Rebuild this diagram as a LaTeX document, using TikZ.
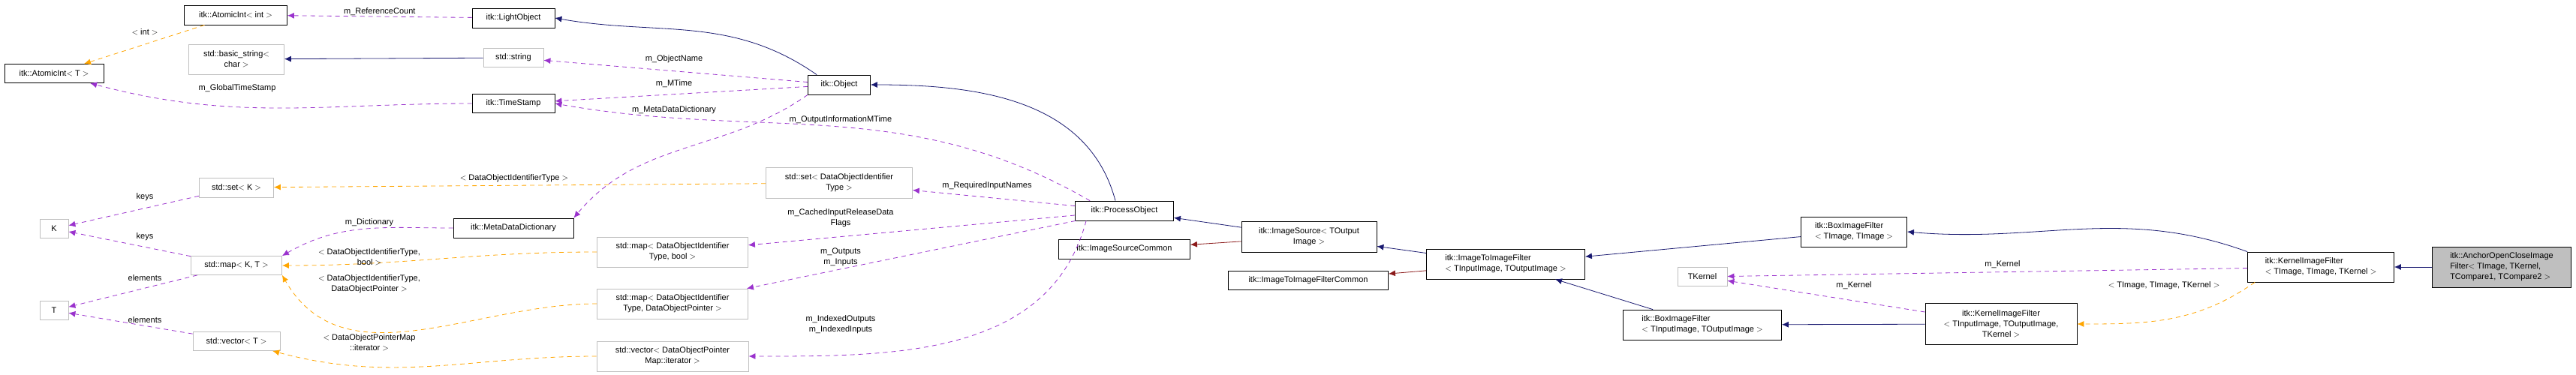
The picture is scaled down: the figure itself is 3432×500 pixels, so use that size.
\documentclass[tikz,border=0pt]{standalone}
\usepackage{fontspec}
\setmainfont{Liberation Sans}
\usetikzlibrary{arrows.meta}
\definecolor{inhcol}{HTML}{191970}
\definecolor{usecol}{HTML}{9A32CD}
\definecolor{tplcol}{HTML}{FFA500}
\definecolor{prvcol}{HTML}{8B1A1A}
\definecolor{grayline}{HTML}{BFBFBF}

\tikzset{
  cls/.style={draw=black, thick, fill=white, align=center, inner sep=2pt,
    font=\fontsize{11}{14}\selectfont},
  ext/.style={cls, draw=grayline},
  lbl/.style={align=center, font=\fontsize{11}{14}\selectfont, inner sep=1pt},
  inh/.style={draw=inhcol, thick, -{Latex[length=9pt,width=8pt]}},
  prv/.style={draw=prvcol, thick, -{Latex[length=9pt,width=8pt]}},
  use/.style={draw=usecol, thick, dashed, dash pattern=on 6pt off 5pt, -{Latex[length=9pt,width=8pt]}},
  tpl/.style={draw=tplcol, thick, dashed, dash pattern=on 6pt off 5pt, -{Latex[length=9pt,width=8pt]}}
}

\begin{document}
\begin{tikzpicture}[x=1pt,y=-1pt]
  \useasboundingbox (0,0) rectangle (3432,500);

  % left column
  \node[cls, minimum width=132, minimum height=25] (aiT) at (72,98) {itk::AtomicInt$<$ T $>$};
  \node[ext, minimum width=38, minimum height=25] (K) at (72,305) {K};
  \node[ext, minimum width=38, minimum height=25] (T) at (72,414) {T};

  % second column
  \node[cls, minimum width=137, minimum height=26] (aiInt) at (314,20) {itk::AtomicInt$<$ int $>$};
  \node[ext, minimum width=127, minimum height=40] (bstr) at (315,79) {std::basic\_string$<$\\char $>$};
  \node[ext, minimum width=99, minimum height=26] (setK) at (315,250) {std::set$<$ K $>$};
  \node[ext, minimum width=121, minimum height=25] (mapKT) at (315,354) {std::map$<$ K, T $>$};
  \node[ext, minimum width=116, minimum height=25] (vecT) at (315,455) {std::vector$<$ T $>$};

  % third column
  \node[cls, minimum width=110, minimum height=26] (light) at (684,24) {itk::LightObject};
  \node[ext, minimum width=80, minimum height=25] (str) at (684,77) {std::string};
  \node[cls, minimum width=110, minimum height=25] (stamp) at (684,138) {itk::TimeStamp};
  \node[cls, minimum width=160, minimum height=26] (mdd) at (684,304) {itk::MetaDataDictionary};
  \node[ext, minimum width=201, minimum height=40] (mapBool) at (896,336) {std::map$<$ DataObjectIdentifier\\Type, bool $>$};
  \node[ext, minimum width=201, minimum height=40] (mapPtr) at (896,405) {std::map$<$ DataObjectIdentifier\\Type, DataObjectPointer $>$};
  \node[ext, minimum width=202, minimum height=40] (vecPtr) at (896,475) {std::vector$<$ DataObjectPointer\\Map::iterator $>$};

  % process object group
  \node[cls, minimum width=83, minimum height=26] (obj) at (1118,113) {itk::Object};
  \node[ext, minimum width=195, minimum height=41] (setDOIT) at (1118,244) {std::set$<$ DataObjectIdentifier\\Type $>$};
  \node[cls, minimum width=131, minimum height=26] (proc) at (1498,281) {itk::ProcessObject};
  \node[cls, minimum width=175, minimum height=26] (srcCommon) at (1498,332) {itk::ImageSourceCommon};
  \node[cls, minimum width=180, minimum height=41] (src) at (1744,316) {itk::ImageSource$<$ TOutput\\Image $>$};
  \node[cls, minimum width=213, minimum height=25] (itiCommon) at (1743,374) {itk::ImageToImageFilterCommon};
  \node[cls, minimum width=211, minimum height=40, align=left] (iti) at (2006,352) {itk::ImageToImageFilter\\$<$ TInputImage, TOutputImage $>$};

  % kernel filters
  \node[cls, minimum width=141, minimum height=40, align=left] (box) at (2470,309) {itk::BoxImageFilter\\$<$ TImage, TImage $>$};
  \node[cls, minimum width=211, minimum height=40, align=left] (box2) at (2268,433) {itk::BoxImageFilter\\$<$ TInputImage, TOutputImage $>$};
  \node[ext, minimum width=66, minimum height=25] (kern) at (2268,369) {TKernel};
  \node[cls, minimum width=195, minimum height=40, align=left] (kif) at (3092,356) {itk::KernelImageFilter\\$<$ TImage, TImage, TKernel $>$};
  \node[cls, minimum width=202, minimum height=55] (kif2) at (2666,432) {itk::KernelImageFilter\\$<$ TInputImage, TOutputImage,\\TKernel $>$};
  \node[cls, fill=grayline, minimum width=185, minimum height=54, align=left] (anchor) at (3333,356) {itk::AnchorOpenCloseImage\\Filter$<$ TImage, TKernel,\\ TCompare1, TCompare2 $>$};

  % inheritance
  \draw[inh] (obj.north west) ++(12,0) to[out=145,in=-10] (light.east);
  \draw[inh] (str) -- (bstr);
  \draw[inh] (proc.north) ++(-12,0) to[out=105,in=0] (obj.east);
  \draw[inh] (src) -- (proc);
  \draw[prv] (src) -- (srcCommon);
  \draw[inh] (iti) -- (src);
  \draw[prv] (iti) -- (itiCommon);
  \draw[inh] (box) -- (iti);
  \draw[inh] (box2) -- (iti);
  \draw[inh] (kif.north west) to[out=160,in=-5] (box.east);
  \draw[inh] (kif2) -- (box2);
  \draw[inh] (anchor) -- (kif);

  % members
  \draw[use] (light) -- node[lbl, above] {m\_ReferenceCount} (aiInt);
  \draw[use] (obj) -- (str);
  \node[lbl] at (898,79) {m\_ObjectName};
  \draw[use] (obj) -- (stamp);
  \node[lbl] at (898,112) {m\_MTime};
  \draw[use] (stamp) to[out=180,in=-15] (aiT);
  \node[lbl] at (316,118) {m\_GlobalTimeStamp};
  \draw[use] (obj.south west) to[out=-145,in=50] (mdd.north east);
  \node[lbl] at (898,147) {m\_MetaDataDictionary};
  \draw[use] (proc.north west) ++(20,0) to[out=150,in=-10] (stamp.east);
  \node[lbl] at (1120,160) {m\_OutputInformationMTime};
  \draw[use] (mdd) to[out=180,in=30] (mapKT.north east);
  \node[lbl] at (492,297) {m\_Dictionary};
  \draw[use] (proc) -- (setDOIT);
  \node[lbl] at (1315,248) {m\_RequiredInputNames};
  \draw[use] (proc) -- (mapBool);
  \node[lbl] at (1120,291) {m\_CachedInputReleaseData\\Flags};
  \draw[use] (proc) -- (mapPtr);
  \node[lbl] at (1120,343) {m\_Outputs\\m\_Inputs};
  \draw[use] (proc.south west) ++(15,0) to[out=-105,in=0] (vecPtr);
  \node[lbl] at (1120,433) {m\_IndexedOutputs\\m\_IndexedInputs};
  \draw[use] (setK) -- (K);
  \node[lbl] at (193,263) {keys};
  \draw[use] (mapKT) -- (K);
  \node[lbl] at (193,316) {keys};
  \draw[use] (mapKT) -- (T);
  \node[lbl] at (193,371) {elements};
  \draw[use] (vecT) -- (T);
  \node[lbl] at (193,427) {elements};
  \draw[use] (kif) -- (kern);
  \node[lbl] at (2668,353) {m\_Kernel};
  \draw[use] (kif2) -- (kern);
  \node[lbl] at (2470,381) {m\_Kernel};

  % template instances
  \draw[tpl] (aiInt) -- (aiT);
  \node[lbl] at (193,43) {$<$ int $>$};
  \draw[tpl] (setDOIT) -- (setK);
  \node[lbl] at (685,238) {$<$ DataObjectIdentifierType $>$};
  \draw[tpl] (mapBool) to[out=180,in=0] (mapKT.east);
  \node[lbl] at (492,343) {$<$ DataObjectIdentifierType,\\bool $>$};
  \draw[tpl] (mapPtr) to[out=180,in=-60] (mapKT.south east);
  \node[lbl] at (492,379) {$<$ DataObjectIdentifierType,\\DataObjectPointer $>$};
  \draw[tpl] (vecPtr) to[out=180,in=-15] (vecT);
  \node[lbl] at (492,457) {$<$ DataObjectPointerMap\\::iterator $>$};
  \draw[tpl] (kif.south west) ++(10,0) to[out=-145,in=0] (kif2);
  \node[lbl] at (2883,381) {$<$ TImage, TImage, TKernel $>$};
\end{tikzpicture}
\end{document}
